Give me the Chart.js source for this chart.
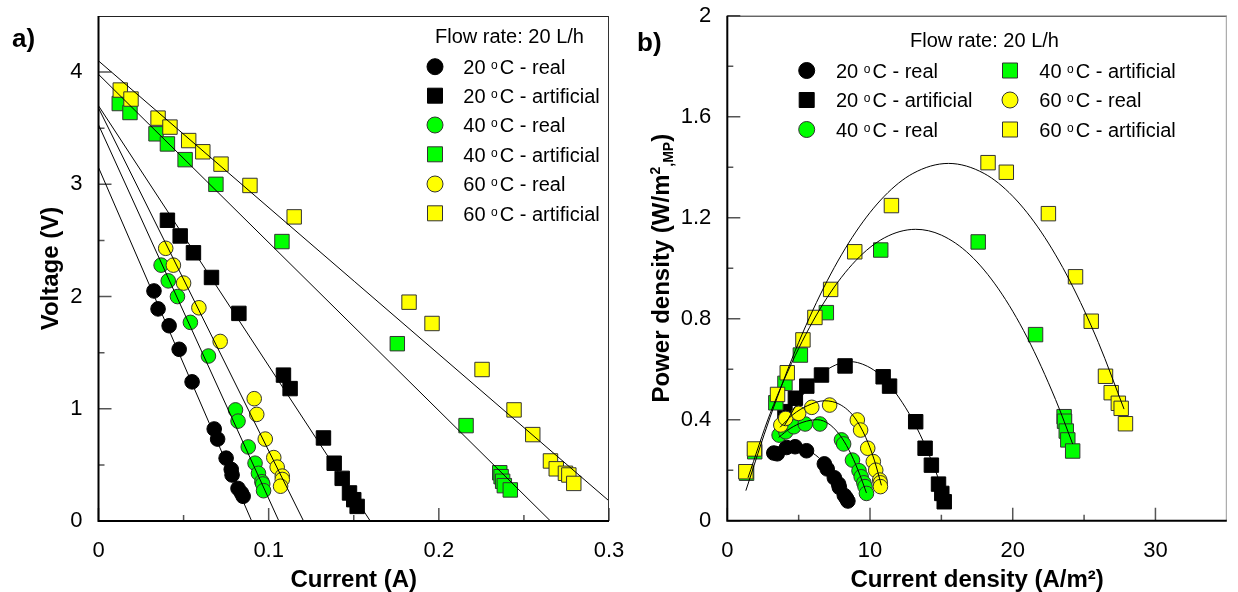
<!DOCTYPE html>
<html>
<head>
<meta charset="utf-8">
<title>Voltage and power density curves</title>
<script src="https://cdn.jsdelivr.net/npm/chart.js@4.4.1/dist/chart.umd.min.js"></script>
<style>
  html, body { margin: 0; padding: 0; background: #fff; }
  #wrap { position: relative; width: 1238px; height: 592px; overflow: hidden; }
  #chartA { position: absolute; left: 0; top: 0; }
  #chartB { position: absolute; left: 619px; top: 0; }
</style>
</head>
<body>
<div id="wrap">
  <canvas id="chartB" width="619" height="592"></canvas>
  <canvas id="chartA" width="640" height="592"></canvas>
</div>
<script>
// series names, in legend order
const seriesLabels = ['20 °C - real', '20 °C - artificial', '40 °C - real',
                      '40 °C - artificial', '60 °C - real', '60 °C - artificial'];

// a) polarisation curves: current (A) / voltage (V)
const curr20real = [0.0326, 0.035, 0.0415, 0.0474, 0.055, 0.068, 0.070, 0.075, 0.078, 0.0785, 0.082, 0.084, 0.085];
const volt20real = [2.05, 1.89, 1.74, 1.53, 1.24, 0.82, 0.73, 0.56, 0.46, 0.41, 0.29, 0.25, 0.22];
const curr20art = [0.0405, 0.048, 0.0558, 0.0664, 0.0825, 0.1087, 0.1126, 0.1322, 0.1385, 0.1432, 0.1475, 0.150, 0.152];
const volt20art = [2.68, 2.54, 2.39, 2.17, 1.85, 1.30, 1.18, 0.74, 0.515, 0.38, 0.25, 0.19, 0.13];
const curr40real = [0.0368, 0.041, 0.0464, 0.054, 0.0646, 0.0805, 0.082, 0.088, 0.092, 0.094, 0.096, 0.0965, 0.097];
const volt40real = [2.28, 2.14, 2.00, 1.77, 1.47, 0.99, 0.89, 0.66, 0.515, 0.425, 0.35, 0.33, 0.27];
const curr40art = [0.0122, 0.0185, 0.0338, 0.0405, 0.0509, 0.069, 0.1078, 0.1756, 0.216, 0.2358, 0.2366, 0.2375, 0.2385, 0.242];
const volt40art = [3.72, 3.64, 3.45, 3.36, 3.22, 3.00, 2.49, 1.58, 0.85, 0.43, 0.395, 0.354, 0.315, 0.277];
const curr60real = [0.0395, 0.044, 0.050, 0.059, 0.0715, 0.0915, 0.093, 0.098, 0.103, 0.105, 0.108, 0.108, 0.107];
const volt60real = [2.43, 2.28, 2.12, 1.90, 1.60, 1.09, 0.95, 0.73, 0.565, 0.48, 0.40, 0.37, 0.31];
const curr60art = [0.0128, 0.0191, 0.035, 0.042, 0.053, 0.0613, 0.072, 0.089, 0.115, 0.1825, 0.196, 0.2254, 0.2442, 0.2552, 0.2656, 0.269, 0.2744, 0.2764, 0.2793];
const volt60art = [3.84, 3.76, 3.59, 3.51, 3.39, 3.29, 3.18, 2.99, 2.71, 1.95, 1.76, 1.35, 0.99, 0.77, 0.535, 0.465, 0.425, 0.41, 0.335];

// linear fits per series: open-circuit voltage and short-circuit current
const fitVoc = [3.15, 3.70, 3.53, 3.98, 3.68, 4.10];
const fitIsc = [0.090, 0.1597, 0.106, 0.2656, 0.1205, 0.3137];

// b) power curves: current density (A/m2) / power density (W/m2 MP)
const dens20real = [3.26, 3.5, 4.15, 4.75, 5.55, 6.8, 7.0, 7.5, 7.8, 7.85, 8.2, 8.35, 8.45];
const pow20real = [0.268, 0.265, 0.29, 0.293, 0.277, 0.225, 0.205, 0.17, 0.145, 0.132, 0.10, 0.088, 0.078];
const dens20art = [4.04, 4.77, 5.57, 6.6, 8.25, 10.92, 11.37, 13.2, 13.86, 14.3, 14.8, 15.03, 15.2];
const pow20art = [0.432, 0.485, 0.533, 0.577, 0.613, 0.570, 0.533, 0.392, 0.287, 0.22, 0.145, 0.108, 0.075];
const dens40real = [3.63, 4.1, 4.66, 5.46, 6.49, 8.0, 8.15, 8.77, 9.23, 9.38, 9.57, 9.65, 9.75];
const pow40real = [0.339, 0.352, 0.372, 0.383, 0.383, 0.32, 0.304, 0.24, 0.198, 0.174, 0.15, 0.135, 0.108];
const dens40art = [1.35, 1.92, 3.4, 4.04, 5.12, 6.94, 10.75, 17.58, 21.6, 23.6, 23.63, 23.75, 23.86, 24.2];
const pow40art = [0.188, 0.273, 0.467, 0.544, 0.656, 0.824, 1.072, 1.104, 0.737, 0.412, 0.394, 0.355, 0.32, 0.276];
const dens60real = [3.75, 4.09, 5.0, 5.92, 7.17, 9.11, 9.34, 9.84, 10.23, 10.4, 10.68, 10.72, 10.73];
const pow60real = [0.379, 0.405, 0.425, 0.449, 0.458, 0.399, 0.359, 0.287, 0.234, 0.2, 0.161, 0.15, 0.135];
const dens60art = [1.30, 1.90, 3.52, 4.2, 5.3, 6.14, 7.24, 8.93, 11.5, 18.27, 19.55, 22.5, 24.4, 25.5, 26.5, 26.9, 27.4, 27.6, 27.9];
const pow60art = [0.194, 0.284, 0.50, 0.586, 0.716, 0.805, 0.916, 1.065, 1.248, 1.418, 1.38, 1.216, 0.966, 0.79, 0.572, 0.507, 0.465, 0.445, 0.384];

// fitted power curves, sampled along each fit
const fitDens20real = [3.3, 4.0, 4.8, 5.6, 6.4, 7.2, 7.9, 8.5];
const fitPow20real = [0.272, 0.29, 0.293, 0.28, 0.25, 0.2, 0.14, 0.08];
const fitDens20art = [4.0, 5, 6, 7, 8.6, 10, 11, 12, 13, 14, 15.2];
const fitPow20art = [0.376, 0.474, 0.549, 0.599, 0.63, 0.606, 0.561, 0.49, 0.398, 0.28, 0.107];
const fitDens40real = [3.6, 4.4, 5.3, 6.3, 7.2, 8.0, 8.7, 9.3, 9.75];
const fitPow40real = [0.33, 0.365, 0.39, 0.40, 0.38, 0.33, 0.26, 0.18, 0.11];
const fitDens40art = [1.45, 3, 5, 7, 9, 11, 13.2, 15, 17, 19, 21, 23, 24.2];
const fitPow40art = [0.17, 0.424, 0.682, 0.884, 1.03, 1.12, 1.154, 1.131, 1.053, 0.918, 0.727, 0.48, 0.304];
const fitDens60real = [3.7, 4.6, 5.6, 6.8, 7.9, 8.9, 9.7, 10.3, 10.8];
const fitPow60real = [0.37, 0.42, 0.455, 0.475, 0.46, 0.41, 0.33, 0.24, 0.14];
const fitDens60art = [1.3, 3, 5, 7, 9, 11, 13, 15.5, 18, 20, 22, 24, 26, 27.8];
const fitPow60art = [0.119, 0.41, 0.706, 0.95, 1.143, 1.285, 1.375, 1.415, 1.375, 1.285, 1.143, 0.95, 0.706, 0.442];

// axis ticks
const ticksCurrent = [0, 0.1, 0.2, 0.3];
const minorCurrent = [0.05, 0.15, 0.25];
const ticksVoltage = [0, 1, 2, 3, 4];
const minorVoltage = [0.5, 1.5, 2.5, 3.5];
const ticksDensity = [0, 10, 20, 30];
const minorDensity = [5, 15, 25];
const ticksPower = [0, 0.4, 0.8, 1.2, 1.6, 2];
const minorPower = [0.2, 0.6, 1.0, 1.4, 1.8];

const FAMILY = "'Liberation Sans', Arial, sans-serif";
const colors = ['#000000', '#000000', '#00ff00', '#00ff00', '#ffff00', '#ffff00'];
const shapes = ['circle', 'rect', 'circle', 'rect', 'circle', 'rect'];

Chart.defaults.font.family = FAMILY;

function pairs(xs, ys) {
  return xs.map((x, k) => ({ x: x, y: ys[k] }));
}

function markerSet(i, xs, ys) {
  const square = shapes[i] === 'rect';
  return {
    label: seriesLabels[i],
    data: pairs(xs, ys),
    showLine: false,
    pointStyle: shapes[i],
    pointRadius: square ? 10.2 : 7.3,
    pointBackgroundColor: colors[i],
    pointBorderColor: i < 2 ? '#000' : '#333',
    pointBorderWidth: 1,
    order: 10 - i
  };
}

function fitSet(xs, ys) {
  return {
    data: pairs(xs, ys),
    showLine: true,
    pointRadius: 0,
    borderColor: '#000',
    borderWidth: 1,
    cubicInterpolationMode: 'monotone',
    order: 0
  };
}

function fmt(v) {
  return String(parseFloat(Number(v).toFixed(3)));
}

function drawRich(ctx, parts, x, y) {
  parts.forEach(p => {
    ctx.font = p.font;
    ctx.fillText(p.text, x, y - (p.rise || 0));
    x += ctx.measureText(p.text).width + (p.gap || 0);
  });
}

function richWidth(ctx, parts) {
  let w = 0;
  parts.forEach(p => {
    ctx.font = p.font;
    w += ctx.measureText(p.text).width + (p.gap || 0);
  });
  return w;
}

function degreeParts(label) {
  const bits = label.split('°');
  return [
    { text: bits[0], font: '20px ' + FAMILY },
    { text: 'o', font: '12px ' + FAMILY, rise: 5, gap: 2 },
    { text: bits[1], font: '20px ' + FAMILY }
  ];
}

// inward tick marks, box frame, axis titles and panel letter
const frame = {
  id: 'frame',
  beforeDatasetsDraw(chart, args, o) {
    const { ctx, chartArea: a, scales: { x, y } } = chart;
    ctx.save();
    ctx.strokeStyle = '#555';
    ctx.lineWidth = 1.5;
    ctx.beginPath();
    o.xMajor.forEach(v => { const px = x.getPixelForValue(v); ctx.moveTo(px, a.bottom); ctx.lineTo(px, a.bottom - 13); });
    o.xMinor.forEach(v => { const px = x.getPixelForValue(v); ctx.moveTo(px, a.bottom); ctx.lineTo(px, a.bottom - 6); });
    o.yMajor.forEach(v => { const py = y.getPixelForValue(v); ctx.moveTo(a.left, py); ctx.lineTo(a.left + 13, py); });
    o.yMinor.forEach(v => { const py = y.getPixelForValue(v); ctx.moveTo(a.left, py); ctx.lineTo(a.left + 6, py); });
    ctx.stroke();
    ctx.restore();
  },
  afterDraw(chart, args, o) {
    const { ctx, chartArea: a } = chart;
    ctx.save();
    // top and right edges
    ctx.lineWidth = 1;
    ctx.strokeStyle = '#222';
    ctx.beginPath();
    ctx.moveTo(a.left, a.top + 0.5); ctx.lineTo(a.right, a.top + 0.5);
    ctx.stroke();
    ctx.strokeStyle = o.rightEdge;
    ctx.beginPath();
    ctx.moveTo(a.right - 0.5, a.top); ctx.lineTo(a.right - 0.5, a.bottom);
    ctx.stroke();
    // left and bottom axes
    ctx.strokeStyle = '#000';
    ctx.lineWidth = 2;
    ctx.beginPath();
    ctx.moveTo(a.left, a.top); ctx.lineTo(a.left, a.bottom); ctx.lineTo(a.right, a.bottom);
    ctx.stroke();

    ctx.fillStyle = '#000';
    ctx.textBaseline = 'alphabetic';
    const xw = richWidth(ctx, o.xTitle);
    drawRich(ctx, o.xTitle, (a.left + a.right) / 2 - xw / 2, o.xTitleY + 8.5);
    ctx.save();
    ctx.translate(o.yTitleX, (a.top + a.bottom) / 2);
    ctx.rotate(-Math.PI / 2);
    const yw = richWidth(ctx, o.yTitle);
    drawRich(ctx, o.yTitle, -yw / 2, 8.5);
    ctx.restore();

    ctx.font = 'bold 26px ' + FAMILY;
    ctx.fillText(o.panel, o.panelX, o.panelY + 9.5);
    ctx.restore();
  }
};

// in-plot legend with the flow-rate heading
const legendBox = {
  id: 'legendBox',
  afterDraw(chart, args, o) {
    const ctx = chart.ctx;
    ctx.save();
    ctx.fillStyle = '#000';
    ctx.textBaseline = 'alphabetic';
    ctx.font = '20px ' + FAMILY;
    ctx.fillText(o.title, o.titleX, o.titleY + 7.2);
    chart.data.datasets.filter(d => d.label).forEach((d, k) => {
      const s = o.slots[k];
      ctx.fillStyle = d.pointBackgroundColor;
      ctx.strokeStyle = d.pointBorderColor;
      ctx.lineWidth = 1;
      ctx.beginPath();
      if (d.pointStyle === 'rect') ctx.rect(s.x - 7.5, s.y - 7.5, 15, 15);
      else ctx.arc(s.x, s.y, 8, 0, Math.PI * 2);
      ctx.fill();
      ctx.stroke();
      ctx.fillStyle = '#000';
      drawRich(ctx, degreeParts(d.label), s.x + o.textGap, s.y + 7.2);
    });
    ctx.restore();
  }
};

function axis(min, max, ticks, size, horizontal) {
  return {
    type: 'linear',
    min: min,
    max: max,
    grid: { display: false, drawTicks: false },
    border: { display: false },
    ticks: {
      font: { size: 22 },
      color: '#000',
      padding: horizontal ? 17 : 16,
      maxRotation: 0,
      autoSkip: false,
      callback: v => fmt(v)
    },
    afterBuildTicks: s => { s.ticks = ticks.map(v => ({ value: v })); },
    afterFit: s => {
      // fixed axis band; end labels may overhang the plot box
      if (horizontal) s.height = size; else s.width = size;
      s.paddingTop = s.paddingBottom = s.paddingLeft = s.paddingRight = 0;
    }
  };
}

const boldTitle = 'bold 24px ' + FAMILY;

new Chart(document.getElementById('chartA'), {
  type: 'scatter',
  data: {
    datasets: [
      markerSet(0, curr20real, volt20real),
      markerSet(1, curr20art, volt20art),
      markerSet(2, curr40real, volt40real),
      markerSet(3, curr40art, volt40art),
      markerSet(4, curr60real, volt60real),
      markerSet(5, curr60art, volt60art)
    ].concat(fitVoc.map((v, i) => fitSet([0, fitIsc[i]], [v, 0])))
  },
  options: {
    responsive: false,
    animation: false,
    devicePixelRatio: 1,
    events: [],
    layout: { padding: { left: 0, top: 16, right: 31, bottom: 0 } },
    scales: {
      x: axis(0, 0.3, ticksCurrent, 71, true),
      y: axis(0, 4.5, ticksVoltage, 98.5, false)
    },
    plugins: {
      legend: { display: false },
      tooltip: { enabled: false },
      frame: {
        xMajor: ticksCurrent, xMinor: minorCurrent,
        yMajor: ticksVoltage, yMinor: minorVoltage,
        rightEdge: '#333',
        xTitle: [{ text: 'Current (A)', font: boldTitle }],
        xTitleY: 578,
        yTitle: [{ text: 'Voltage (V)', font: boldTitle }],
        yTitleX: 49,
        panel: 'a)', panelX: 12, panelY: 37
      },
      legendBox: {
        title: 'Flow rate: 20 L/h', titleX: 435, titleY: 36, textGap: 28.3,
        slots: [{ x: 435, y: 66.7 }, { x: 435, y: 95.7 }, { x: 435, y: 125 },
                { x: 435, y: 154.3 }, { x: 435, y: 184 }, { x: 435, y: 213.3 }]
      }
    }
  },
  plugins: [frame, legendBox]
});

new Chart(document.getElementById('chartB'), {
  type: 'scatter',
  data: {
    datasets: [
      markerSet(0, dens20real, pow20real),
      markerSet(1, dens20art, pow20art),
      markerSet(2, dens40real, pow40real),
      markerSet(3, dens40art, pow40art),
      markerSet(4, dens60real, pow60real),
      markerSet(5, dens60art, pow60art),
      fitSet(fitDens20real, fitPow20real),
      fitSet(fitDens20art, fitPow20art),
      fitSet(fitDens40real, fitPow40real),
      fitSet(fitDens40art, fitPow40art),
      fitSet(fitDens60real, fitPow60real),
      fitSet(fitDens60art, fitPow60art)
    ]
  },
  options: {
    responsive: false,
    animation: false,
    devicePixelRatio: 1,
    events: [],
    layout: { padding: { left: 0, top: 15.7, right: 1.3, bottom: 0 } },
    scales: {
      x: axis(0, 35, ticksDensity, 71.3, true),
      y: axis(0, 2, ticksPower, 108.3, false)
    },
    plugins: {
      legend: { display: false },
      tooltip: { enabled: false },
      frame: {
        xMajor: ticksDensity, xMinor: minorDensity,
        yMajor: ticksPower, yMinor: minorPower,
        rightEdge: '#999',
        xTitle: [{ text: 'Current density (A/m²)', font: boldTitle }],
        xTitleY: 578,
        yTitle: [
          { text: 'Power density (W/m', font: boldTitle },
          { text: '2', font: 'bold 14px ' + FAMILY, rise: 9 },
          { text: ',MP', font: 'bold 14px ' + FAMILY, rise: -4 },
          { text: ')', font: boldTitle }
        ],
        yTitleX: 41,
        panel: 'b)', panelX: 18, panelY: 41
      },
      legendBox: {
        title: 'Flow rate: 20 L/h', titleX: 291, titleY: 40, textGap: 29.3,
        slots: [{ x: 187.7, y: 70.5 }, { x: 187.7, y: 100 }, { x: 187.7, y: 129.5 },
                { x: 391, y: 70.5 }, { x: 391, y: 100 }, { x: 391, y: 129.5 }]
      }
    }
  },
  plugins: [frame, legendBox]
});
</script>
</body>
</html>
